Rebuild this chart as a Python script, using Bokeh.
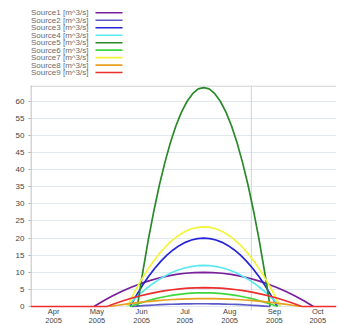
import pandas as pd
import numpy as np
from bokeh.plotting import figure
from bokeh.layouts import column
from bokeh.models import Range1d, FixedTicker
from bokeh.core.properties import value
from bokeh.embed import file_html
from bokeh.resources import INLINE

# ---------------- data ----------------
SERIES_NAMES = ["Source1 [m^3/s]", "Source2 [m^3/s]", "Source3 [m^3/s]",
                "Source4 [m^3/s]", "Source5 [m^3/s]", "Source6 [m^3/s]",
                "Source7 [m^3/s]", "Source8 [m^3/s]", "Source9 [m^3/s]"]
SERIES_COLORS = ["#7a1f9a", "#5a5ac8", "#2424d8", "#5ae8f2", "#2a8a2a",
                 "#3ed83e", "#f4f43a", "#e8a020", "#ec2e2e"]
# each source is non-zero between its start and end date, zero elsewhere
SERIES_START = ["2005-04-29", "2005-05-25", "2005-05-24", "2005-05-22", "2005-05-29",
                "2005-05-24", "2005-05-22", "2005-05-10", "2005-05-08"]
SERIES_END = ["2005-09-28", "2005-08-29", "2005-09-03", "2005-09-05", "2005-08-29",
              "2005-09-03", "2005-09-05", "2005-09-19", "2005-09-20"]
# values read at 25 evenly spaced dates from start to end of each source
S1_VALUES = [0, 1.6, 3.06, 4.38, 5.56, 6.6, 7.5, 8.26, 8.89, 9.38, 9.72, 9.93, 10.0,
             9.93, 9.72, 9.38, 8.89, 8.26, 7.5, 6.6, 5.56, 4.38, 3.06, 1.6, 0]
S2_VALUES = [0, 0.13, 0.24, 0.35, 0.44, 0.53, 0.6, 0.66, 0.71, 0.75, 0.78, 0.8, 0.8,
             0.8, 0.78, 0.75, 0.71, 0.66, 0.6, 0.53, 0.44, 0.35, 0.24, 0.13, 0]
S3_VALUES = [0, 3.19, 6.11, 8.75, 11.11, 13.19, 15.0, 16.53, 17.78, 18.75, 19.44, 19.86, 20.0,
             19.86, 19.44, 18.75, 17.78, 16.53, 15.0, 13.19, 11.11, 8.75, 6.11, 3.19, 0]
S4_VALUES = [0, 1.92, 3.67, 5.25, 6.67, 7.92, 9.0, 9.92, 10.67, 11.25, 11.67, 11.92, 12.0,
             11.92, 11.67, 11.25, 10.67, 9.92, 9.0, 7.92, 6.67, 5.25, 3.67, 1.92, 0]
S5_VALUES = [0, 10.2, 19.6, 28.0, 35.6, 42.2, 48.0, 52.9, 56.9, 60.0, 62.2, 63.6, 64.0,
             63.6, 62.2, 60.0, 56.9, 52.9, 48.0, 42.2, 35.6, 28.0, 19.6, 10.2, 0]
S6_VALUES = [0, 0.64, 1.22, 1.75, 2.22, 2.64, 3.0, 3.31, 3.56, 3.75, 3.89, 3.97, 4.0,
             3.97, 3.89, 3.75, 3.56, 3.31, 3.0, 2.64, 2.22, 1.75, 1.22, 0.64, 0]
S7_VALUES = [0, 3.72, 7.12, 10.19, 12.94, 15.37, 17.48, 19.26, 20.71, 21.84, 22.65, 23.14, 23.3,
             23.14, 22.65, 21.84, 20.71, 19.26, 17.48, 15.37, 12.94, 10.19, 7.12, 3.72, 0]
S8_VALUES = [0, 0.37, 0.7, 1.01, 1.28, 1.52, 1.73, 1.9, 2.04, 2.16, 2.24, 2.28, 2.3,
             2.28, 2.24, 2.16, 2.04, 1.9, 1.73, 1.52, 1.28, 1.01, 0.7, 0.37, 0]
S9_VALUES = [0, 0.88, 1.68, 2.41, 3.06, 3.63, 4.13, 4.55, 4.89, 5.16, 5.35, 5.46, 5.5,
             5.46, 5.35, 5.16, 4.89, 4.55, 4.13, 3.63, 3.06, 2.41, 1.68, 0.88, 0]
ALL_VALUES = [S1_VALUES, S2_VALUES, S3_VALUES, S4_VALUES, S5_VALUES,
              S6_VALUES, S7_VALUES, S8_VALUES, S9_VALUES]

PERIOD_START = "2005-03-16"
PERIOD_END = "2005-10-14"
MARKER_DATE = "2005-08-16"
X_TICKS = ["2005-04-01", "2005-05-01", "2005-06-01", "2005-07-01",
           "2005-08-01", "2005-09-01", "2005-10-01"]
X_TICK_MONTHS = ["Apr", "May", "Jun", "Jul", "Aug", "Sep", "Oct"]
X_TICK_YEARS = ["2005", "2005", "2005", "2005", "2005", "2005", "2005"]
Y_TICKS = [0, 5, 10, 15, 20, 25, 30, 35, 40, 45, 50, 55, 60]
Y_TOP = 64.6

FONT = "Liberation Sans"
EPOCH = pd.Timestamp("1970-01-01")


def ms(d):
    return (pd.Timestamp(d) - EPOCH).total_seconds() * 1000.0


# ---------------- legend panel ----------------
# the column aligns this panel's frame with the chart frame (page x 30..336)
leg = figure(width=338, height=80, x_range=Range1d(30, 336), y_range=Range1d(80, 0),
             output_backend="svg", toolbar_location=None,
             min_border=0, min_border_left=0, min_border_right=0,
             min_border_top=0, min_border_bottom=0)
leg.axis.visible = False
leg.grid.visible = False
leg.outline_line_color = None
row_y = [12.3 + 7.47 * i for i in range(len(SERIES_NAMES))]
leg.text(x=[88] * len(SERIES_NAMES), y=row_y, text=SERIES_NAMES,
         text_align="right", text_baseline="middle",
         text_font=value(FONT), text_font_size="8px", text_color="#6a6a6a")
leg.segment(x0=[95] * len(SERIES_NAMES), x1=[122] * len(SERIES_NAMES),
            y0=row_y, y1=row_y, line_color=SERIES_COLORS, line_width=1.6)

# ---------------- main chart ----------------
# frame runs from page y 85 to the page bottom; value 0 sits 18 px above the bottom,
# the month/year labels are drawn in that strip
PLOT_H = 221          # px between value 0 and Y_TOP
LABEL_STRIP = 18      # px below value 0
ppu = PLOT_H / Y_TOP  # px per unit
y_start = -LABEL_STRIP / ppu
x0, x1 = ms(PERIOD_START), ms(PERIOD_END)
ms_per_px = (x1 - x0) / 306.0

p = figure(width=338, height=5 + PLOT_H + LABEL_STRIP, x_axis_type="datetime",
           x_range=Range1d(x0, x1), y_range=Range1d(y_start, Y_TOP),
           output_backend="svg", toolbar_location=None,
           min_border_left=30, min_border_right=2,
           min_border_top=5, min_border_bottom=0)
p.outline_line_color = None
p.background_fill_color = "white"
p.border_fill_color = "white"
p.xaxis.visible = False

p.xgrid.visible = False
p.ygrid.ticker = FixedTicker(ticks=Y_TICKS)
p.ygrid.grid_line_color = "#e2e8f2"
p.ygrid.grid_line_width = 1

# frame top line, y-axis line and the date marker line
p.segment(x0=[x0], x1=[x1], y0=[Y_TOP - 0.6 / ppu], y1=[Y_TOP - 0.6 / ppu],
          line_color="#c8c8c8", line_width=1)
p.segment(x0=[x0 + 0.5 * ms_per_px], x1=[x0 + 0.5 * ms_per_px], y0=[0], y1=[Y_TOP],
          line_color="#aaaaaa", line_width=1)
p.segment(x0=[ms(MARKER_DATE)], x1=[ms(MARKER_DATE)], y0=[-4 / ppu], y1=[Y_TOP],
          line_color="#c9d2e2", line_width=1)

p.yaxis.ticker = FixedTicker(ticks=Y_TICKS)
p.yaxis.axis_line_color = None
p.yaxis.major_tick_line_color = "#aaaaaa"
p.yaxis.major_tick_out = 2
p.yaxis.major_tick_in = 0
p.yaxis.minor_tick_line_color = None
p.yaxis.major_label_standoff = 4
p.yaxis.major_label_text_font = FONT
p.yaxis.major_label_text_font_size = "8px"
p.yaxis.major_label_text_color = "#444444"

n_series = len(SERIES_NAMES)
for i, (name, color, start, end, vals) in enumerate(zip(SERIES_NAMES, SERIES_COLORS,
                                                        SERIES_START, SERIES_END, ALL_VALUES)):
    inner = pd.date_range(start, end, periods=len(vals))
    xs = list(inner)
    ys = list(vals)
    if i == n_series - 1:
        # the last source (drawn on top) shows the zero flow over the whole period
        xs = [pd.Timestamp(PERIOD_START)] + xs + [pd.Timestamp(PERIOD_END)]
        ys = [0] + ys + [0]
    p.line(x=xs, y=ys, line_color=color, line_width=1.7)

# x tick labels (month / year) in the strip below value 0
tick_x = [ms(t) for t in X_TICKS]
p.text(x=tick_x, y=[-5.2 / ppu] * len(tick_x), text=X_TICK_MONTHS,
       text_align="center", text_baseline="middle",
       text_font=value(FONT), text_font_size="7.5px", text_color="#444444")
p.text(x=tick_x, y=[-13.6 / ppu] * len(tick_x), text=X_TICK_YEARS,
       text_align="center", text_baseline="middle",
       text_font=value(FONT), text_font_size="7.5px", text_color="#444444")

layout = column(leg, p, spacing=0)
open("out.html", "w").write(file_html(layout, INLINE))
